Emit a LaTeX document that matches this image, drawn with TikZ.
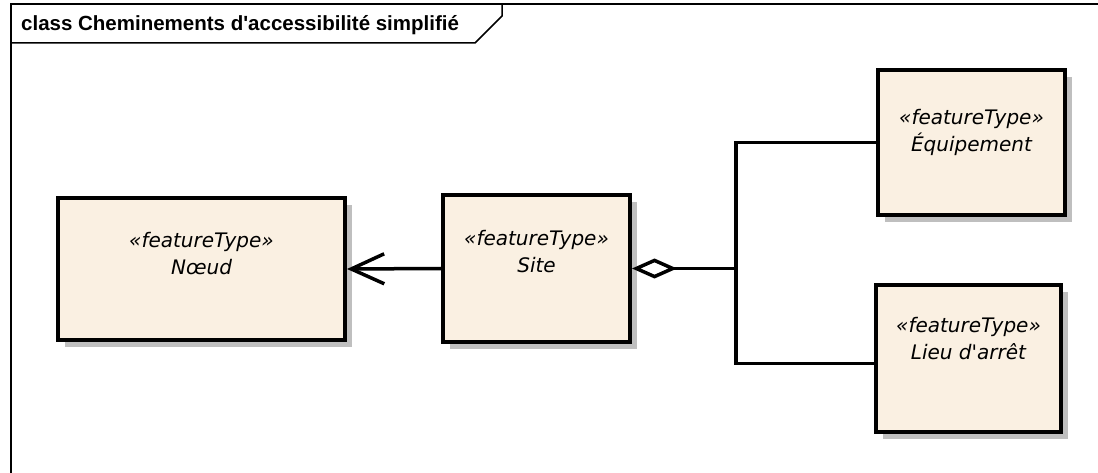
\documentclass[tikz,border=0pt]{standalone}
\usepackage{fontspec}
\setmainfont{Liberation Sans}
\newfontfamily\handfont{DejaVu Sans}
\usetikzlibrary{shadows,arrows.meta,positioning}

\definecolor{featfill}{RGB}{250,240,226}

\tikzset{
  feature/.style={draw,line width=4pt,fill=featfill,rectangle,
    drop shadow={shadow xshift=7pt,shadow yshift=-7pt,fill=black!25,opacity=1}},
  stereo/.style={align=center,anchor=north,font=\handfont\fontsize{20}{27}\selectfont\itshape},
  link/.style={line width=3.5pt}
}

\begin{document}
\begin{tikzpicture}[x=1pt,y=-1pt]
        \useasboundingbox (0,0) rectangle (1098,473);

        % frame
        \draw[line width=2pt] (11,473) -- (11,4) -- (1098,4);
        \draw[line width=1.5pt] (11,43) -- (475,43) -- (502,16) -- (502,4);
        \node[anchor=west,font=\bfseries\fontsize{20.5}{22}\selectfont,inner sep=0pt] (title) at (21,25) {class Cheminements d\textquotesingle accessibilité simplifié};

        % classes
        \node[feature,minimum width=287pt,minimum height=142pt] (noeud) at (201.5,269) {};
        \node[feature,minimum width=187pt,minimum height=147pt] (site) at (536.5,268.5) {};
        \node[feature,minimum width=187pt,minimum height=145pt] (equip) at (971.5,142.5) {};
        \node[feature,minimum width=185pt,minimum height=147pt] (lieu) at (968.5,358.5) {};

        \node[stereo,below=33pt of noeud.north] (noeudtxt) {«featureType»\\Nœud};
        \node[stereo,below=34pt of site.north] (sitetxt) {«featureType»\\Site};
        \node[stereo,below=38pt of equip.north] (equiptxt) {«featureType»\\Équipement};
        \node[stereo,below=31pt of lieu.north] (lieutxt) {«featureType»\\Lieu d\textquotesingle arrêt};

        % associations
        \coordinate (junc) at (736,268.5);
        \draw[link,-{Straight Barb[length=33pt,width=30pt]}] (site.west) -- (noeud.east);
        \draw[link,{Diamond[open,length=45pt,width=20pt]}-] (site.east) -- (junc);
        \draw[link] (equip.west) -| (junc) |- ([yshift=-5pt]lieu.west);
      \end{tikzpicture}
\end{document}
